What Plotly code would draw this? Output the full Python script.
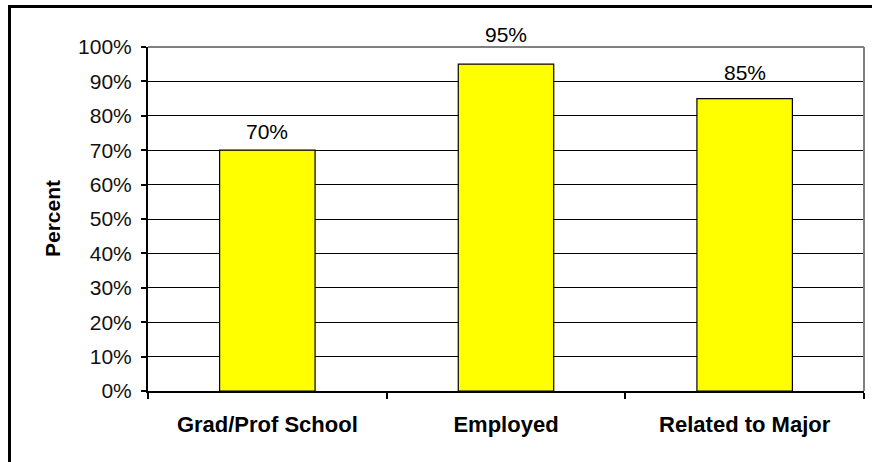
import plotly.graph_objects as go

# Outcomes of graduates (percent)
categories = ["Grad/Prof School", "Employed", "Related to Major"]
percent_values = [70, 95, 85]
value_labels = ["70%", "95%", "85%"]
y_tick_values = [0, 10, 20, 30, 40, 50, 60, 70, 80, 90, 100]
y_tick_labels = ["0%", "10%", "20%", "30%", "40%", "50%", "60%", "70%", "80%", "90%", "100%"]

W, H = 872, 462
ML, MR, MT, MB = 148, 8, 47, 71
PW, PH = W - ML - MR, H - MT - MB

FONT = "Liberation Sans, Arial, sans-serif"

fig = go.Figure(
    go.Bar(
        x=categories,
        y=percent_values,
        width=0.4,
        marker=dict(color="#FFFF00", line=dict(color="#000000", width=1.2)),
        hoverinfo="skip",
    )
)

# value labels above each bar
label_shift = [18.5, 30, 26]
for cat, val, txt, dy in zip(categories, percent_values, value_labels, label_shift):
    fig.add_annotation(
        x=cat, y=val, text=txt, showarrow=False, xanchor="center", yanchor="middle",
        yshift=dy, font=dict(family=FONT, size=21, color="#000000"),
    )

# y-axis title
fig.add_annotation(
    x=(52 - ML) / PW, y=0.5, xref="paper", yref="paper", text="<b>Percent</b>",
    textangle=-90, showarrow=False, xanchor="center", yanchor="middle",
    font=dict(family=FONT, size=21, color="#000000"),
)

# gray plot-area frame (top and right)
fig.add_shape(type="line", xref="paper", yref="paper", x0=0, x1=1, y0=1, y1=1,
              line=dict(color="#808080", width=2), layer="above")
fig.add_shape(type="line", xref="paper", yref="paper", x0=1, x1=1, y0=0, y1=1,
              line=dict(color="#808080", width=2), layer="above")

# outer chart border
fig.add_shape(type="rect", xref="paper", yref="paper",
              x0=(9.5 - ML) / PW, x1=(W + 20 - ML) / PW,
              y0=(MT + PH - (H + 20)) / PH, y1=(MT + PH - 6.5) / PH,
              line=dict(color="#000000", width=3), fillcolor="rgba(0,0,0,0)", layer="above")

fig.update_layout(
    width=W, height=H,
    margin=dict(l=ML, r=MR, t=MT, b=MB, autoexpand=False),
    paper_bgcolor="#FFFFFF", plot_bgcolor="#FFFFFF",
    showlegend=False,
    font=dict(family=FONT, size=21, color="#000000"),
    xaxis=dict(
        type="category", tickson="boundaries", ticks="outside", ticklen=6, tickwidth=2,
        tickcolor="#000000", showline=True, linecolor="#000000", linewidth=2,
        showgrid=False, zeroline=False, ticklabelstandoff=13,
        tickfont=dict(family=FONT, size=22, color="#000000", weight="bold"),
        fixedrange=True,
    ),
    yaxis=dict(
        range=[0, 100], tickvals=y_tick_values, ticktext=y_tick_labels,
        ticks="outside", ticklen=5, tickwidth=1.5, tickcolor="#000000",
        showline=True, linecolor="#000000", linewidth=2,
        showgrid=True, gridcolor="#000000", gridwidth=1, zeroline=False,
        ticklabelstandoff=5,
        tickfont=dict(family=FONT, size=21, color="#111111"),
        fixedrange=True,
    ),
)

fig.write_html("out.html", config={"displayModeBar": False})
